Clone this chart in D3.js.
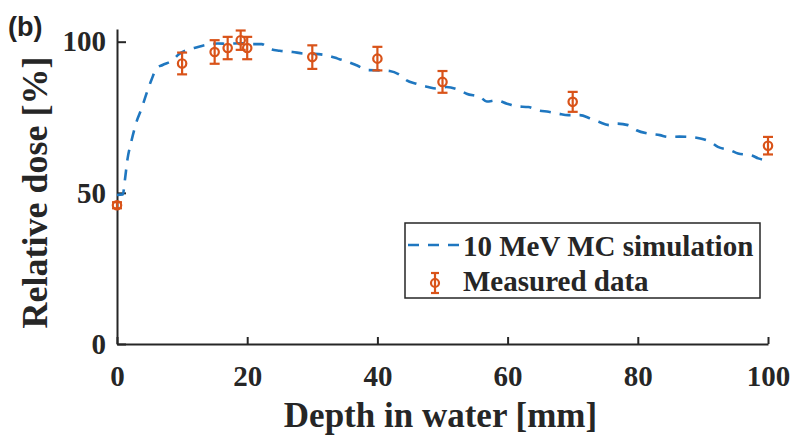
<!DOCTYPE html>
<html>
<head>
<meta charset="utf-8">
<script src="https://cdn.jsdelivr.net/npm/d3@7"></script>
<style>
  html, body { margin: 0; padding: 0; background: #fff; }
  svg { display: block; }
  .serif { font-family: "Liberation Serif", "Times New Roman", serif; font-weight: bold; fill: #262626; }
</style>
</head>
<body>
<svg id="chart" width="794" height="435"></svg>
<script>
// Monte Carlo depth-dose curve (depth in mm, relative dose in %)
const simDepth = [0, 0.9, 1.2, 1.6, 2.2, 3.0, 3.8, 4.4, 5.3, 6.1, 7.0, 8.6, 9.4, 10.7, 12.0, 13.8, 15.5, 17.0, 19.0, 21.0, 22.2, 23.5, 25.0, 27.0, 28.6, 30.0, 32.2, 33.9, 35.5, 36.8, 38.6, 40.4, 41.9, 43.5, 44.5, 46.0, 47.8, 49.1, 50.6, 52.7, 53.7, 55.8, 56.8, 58.3, 59.9, 61.4, 63.2, 64.7, 66.3, 67.8, 69.3, 71.1, 72.7, 74.0, 75.7, 76.7, 78.5, 79.8, 81.6, 83.4, 84.6, 86.4, 88.0, 89.6, 91.1, 92.3, 94.2, 95.4, 97.5, 98.5, 99.6];
const simDose  = [49.3, 49.5, 54.0, 61.0, 67.0, 73.5, 78.0, 82.0, 87.4, 91.3, 92.3, 94.0, 95.7, 97.2, 98.0, 99.0, 99.4, 99.3, 99.5, 99.2, 99.2, 97.6, 97.0, 96.6, 96.1, 96.0, 95.5, 94.4, 93.3, 92.2, 90.6, 90.5, 90.3, 88.9, 87.2, 86.1, 85.0, 84.5, 85.0, 83.9, 82.8, 81.7, 80.2, 80.6, 79.5, 78.6, 78.4, 77.3, 76.8, 76.2, 75.7, 75.7, 74.6, 73.5, 72.4, 72.9, 72.4, 70.7, 69.6, 69.1, 68.5, 68.6, 68.5, 68.0, 66.9, 65.2, 64.1, 63.0, 62.4, 61.4, 60.8];

// Measured points with error bars
const measDepth = [0, 10, 15, 17, 19, 20, 30, 40, 50, 70, 100];
const measDose  = [45.9, 92.8, 96.6, 97.9, 100.5, 97.9, 94.9, 94.4, 86.7, 80.1, 65.6];
const measErr   = [1.0, 3.6, 3.9, 3.7, 3.2, 3.7, 3.9, 3.9, 3.6, 3.3, 2.9];

const xTicks = [0, 20, 40, 60, 80, 100];
const yTicks = [0, 50, 100];

const simColor = "#1f77c0";
const measColor = "#d95319";
const axisColor = "#262626";

const svg = d3.select("#chart");
const plotLeft = 117, plotRight = 768, plotTop = 29, plotBottom = 344;

const x = d3.scaleLinear().domain([0, 100]).range([plotLeft, plotRight]);
const y = d3.scaleLinear().domain([0, 104.2]).range([plotBottom, plotTop]);

// axes with inward ticks
const gx = svg.append("g").attr("transform", `translate(0,${plotBottom})`)
  .call(d3.axisBottom(x).tickValues(xTicks).tickSizeInner(-7).tickSizeOuter(0).tickPadding(21));
const gy = svg.append("g").attr("transform", `translate(${plotLeft},0)`)
  .call(d3.axisLeft(y).tickValues(yTicks).tickSizeInner(-9).tickSizeOuter(0).tickPadding(11));

[gx, gy].forEach(g => {
  g.select(".domain").attr("stroke", axisColor).attr("stroke-width", 2);
  g.selectAll(".tick line").attr("stroke", axisColor).attr("stroke-width", 2);
  g.selectAll(".tick text").attr("class", "serif").style("font-size", "29px");
});

// simulation curve
const line = d3.line().x((d, i) => x(simDepth[i])).y(d => y(d)).curve(d3.curveMonotoneX);
svg.append("path")
  .datum(simDose)
  .attr("d", line)
  .attr("fill", "none")
  .attr("stroke", simColor)
  .attr("stroke-width", 2.6)
  .attr("stroke-dasharray", "11,9");

// measured data with error bars
const capHalf = 5;
const meas = svg.append("g").attr("stroke", measColor).attr("stroke-width", 2.2).attr("fill", "none");
measDepth.forEach((d, i) => {
  const cx = x(d), cy = y(measDose[i]);
  const y0 = y(measDose[i] - measErr[i]), y1 = y(measDose[i] + measErr[i]);
  const g = meas.append("g");
  g.append("line").attr("x1", cx).attr("x2", cx).attr("y1", y0).attr("y2", y1);
  g.append("line").attr("x1", cx - capHalf).attr("x2", cx + capHalf).attr("y1", y0).attr("y2", y0);
  g.append("line").attr("x1", cx - capHalf).attr("x2", cx + capHalf).attr("y1", y1).attr("y2", y1);
  g.append("circle").attr("cx", cx).attr("cy", cy).attr("r", 4.2);
});

// axis titles
svg.append("text").attr("class", "serif")
  .attr("x", (plotLeft + plotRight) / 2 - 2).attr("y", 427)
  .attr("text-anchor", "middle").style("font-size", "35px")
  .text("Depth in water [mm]");
svg.append("text").attr("class", "serif")
  .attr("transform", `translate(47,${(plotTop + plotBottom) / 2 + 6}) rotate(-90)`)
  .attr("text-anchor", "middle").style("font-size", "36px")
  .text("Relative dose [%]");

// panel label
svg.append("text")
  .attr("x", 8).attr("y", 36)
  .style("font-family", "'Liberation Sans', Arial, sans-serif")
  .style("font-weight", "bold").style("font-size", "27px").attr("fill", "#222")
  .text("(b)");

// legend
const lg = svg.append("g");
lg.append("rect").attr("x", 405).attr("y", 223).attr("width", 355).attr("height", 75)
  .attr("fill", "#fff").attr("stroke", axisColor).attr("stroke-width", 1.5);
lg.append("line").attr("x1", 408).attr("x2", 459).attr("y1", 245).attr("y2", 245)
  .attr("stroke", simColor).attr("stroke-width", 2.6).attr("stroke-dasharray", "11,9");
const lx = 435, ly = 283;
const lm = lg.append("g").attr("stroke", measColor).attr("stroke-width", 2.2).attr("fill", "none");
lm.append("line").attr("x1", lx).attr("x2", lx).attr("y1", ly - 10).attr("y2", ly + 10);
lm.append("line").attr("x1", lx - 4).attr("x2", lx + 4).attr("y1", ly - 10).attr("y2", ly - 10);
lm.append("line").attr("x1", lx - 4).attr("x2", lx + 4).attr("y1", ly + 10).attr("y2", ly + 10);
lm.append("circle").attr("cx", lx).attr("cy", ly).attr("r", 4);
lg.append("text").attr("class", "serif").attr("x", 463).attr("y", 256)
  .style("font-size", "29px").text("10 MeV MC simulation");
lg.append("text").attr("class", "serif").attr("x", 463).attr("y", 291)
  .style("font-size", "29px").text("Measured data");
</script>
</body>
</html>
